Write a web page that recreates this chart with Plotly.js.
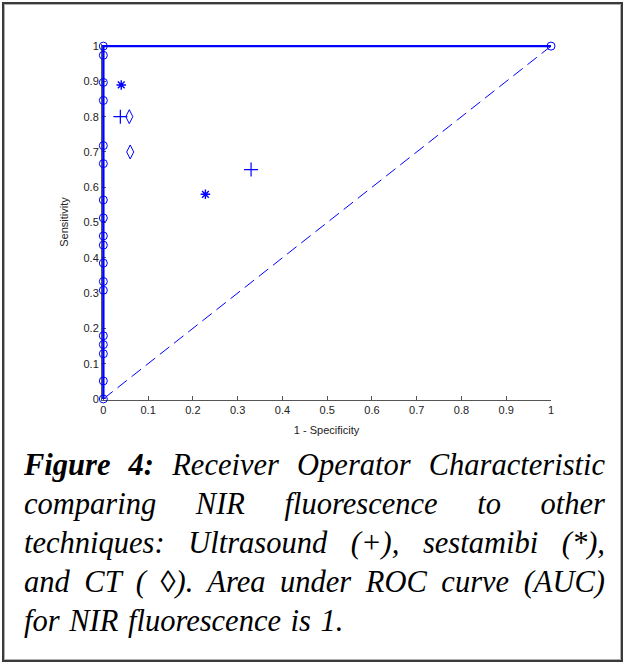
<!DOCTYPE html>
<html>
<head>
<meta charset="utf-8">
<script src="https://cdn.plot.ly/plotly-3.0.1.min.js"></script>
<style>
  html, body { margin: 0; padding: 0; background: #fff; width: 624px; height: 664px; overflow: hidden; }
  #frame { position: absolute; left: 2px; top: 2px; width: 617px; height: 656px; border: 2px solid #3a3a3a; box-shadow: inset 0 0 0 1px #b0b0b0; }
  #plot { position: absolute; left: 0; top: 0; width: 624px; height: 440px; }
  #caption { position: absolute; left: 24px; top: 446px; width: 581px; font-family: "Liberation Serif", "Times New Roman", serif; font-style: italic; font-size: 30.5px; line-height: 39px; color: #000; }
  #caption .ln { text-align: justify; text-align-last: justify; white-space: nowrap; }
  #caption .ln.last { text-align: left; text-align-last: left; word-spacing: 2px; }
</style>
</head>
<body>
<div id="frame"></div>
<div id="plot"></div>
<div id="caption">
  <div class="ln"><b>Figure 4:</b> Receiver Operator Characteristic</div>
  <div class="ln">comparing NIR fluorescence to other</div>
  <div class="ln">techniques: Ultrasound (+), sestamibi (*),</div>
  <div class="ln">and CT ( &#9674;). Area under ROC curve (AUC)</div>
  <div class="ln last">for NIR fluorescence is 1.</div>
</div>
<script>
// NIR fluorescence ROC curve points (1 - specificity, sensitivity)
const nirX = [0, 0, 0, 0, 0, 0, 0, 0, 0, 0, 0, 0, 0, 0, 0, 0, 0, 0, 1];
const nirY = [0, 0.051, 0.128, 0.154, 0.179, 0.308, 0.333, 0.385, 0.436, 0.462, 0.513, 0.564, 0.667, 0.718, 0.846, 0.897, 0.974, 1, 1];
// Chance diagonal
const diagX = [0, 1];
const diagY = [0, 1];
// Ultrasound (+)
const usX = [0.038, 0.33];
const usY = [0.80, 0.65];
// Sestamibi (*)
const sesX = [0.04, 0.228];
const sesY = [0.89, 0.58];
// CT (diamond)
const ctX = [0.058, 0.06];
const ctY = [0.80, 0.70];
// Tick labels
const tickVals = [0, 0.1, 0.2, 0.3, 0.4, 0.5, 0.6, 0.7, 0.8, 0.9, 1];
const tickText = ['0', '0.1', '0.2', '0.3', '0.4', '0.5', '0.6', '0.7', '0.8', '0.9', '1'];

const blue = '#0000ff';

const traces = [
  { x: diagX, y: diagY, mode: 'lines', line: { color: blue, width: 1, dash: '12px,6px' }, cliponaxis: false, hoverinfo: 'skip' },
  { x: nirX, y: nirY, mode: 'lines+markers', line: { color: blue, width: 2.4 },
    marker: { symbol: 'circle-open', size: 8, color: blue, line: { width: 1, color: blue } }, cliponaxis: false },
  { x: usX, y: usY, mode: 'markers', marker: { symbol: 'cross-thin-open', size: 10, color: blue, line: { width: 1.2, color: blue } }, cliponaxis: false },
  { x: sesX, y: sesY, mode: 'markers', marker: { symbol: 'asterisk-open', size: 8, color: blue, line: { width: 1.4, color: blue } }, cliponaxis: false },
  { x: ctX, y: ctY, mode: 'markers', marker: { symbol: 'diamond-tall-open', size: 10, color: blue, line: { width: 1, color: blue } }, cliponaxis: false }
];

const axisFont = { family: 'Liberation Sans, Arial, sans-serif', size: 11, color: '#222' };

const layout = {
  width: 624, height: 440,
  margin: { l: 102, r: 73, t: 44, b: 40, pad: 0 },
  paper_bgcolor: 'rgba(0,0,0,0)', plot_bgcolor: 'rgba(0,0,0,0)',
  showlegend: false,
  xaxis: {
    range: [-0.003, 1], tickvals: tickVals, ticktext: tickText,
    showgrid: false, zeroline: false, showline: true, linecolor: '#555', linewidth: 1,
    ticks: 'inside', ticklen: 4, tickcolor: '#555', tickfont: axisFont, layer: 'below traces',
    title: { text: '1 - Specificity', font: axisFont, standoff: 11 }
  },
  yaxis: {
    range: [-0.003, 1.006], tickvals: tickVals, ticktext: tickText,
    showgrid: false, zeroline: false, showline: true, linecolor: '#555', linewidth: 1,
    ticks: 'inside', ticklen: 4, tickcolor: '#555', tickfont: axisFont, layer: 'below traces',
    title: { text: 'Sensitivity', font: axisFont, standoff: 12 }
  }
};

Plotly.newPlot('plot', traces, layout, { staticPlot: true, displayModeBar: false });
</script>
</body>
</html>
